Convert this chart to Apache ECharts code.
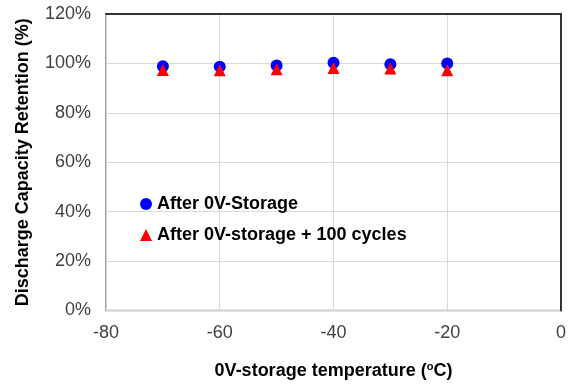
<!DOCTYPE html>
<html>
<head>
<meta charset="utf-8">
<script src="https://cdn.jsdelivr.net/npm/echarts@6/dist/echarts.min.js"></script>
<style>
  html, body { margin: 0; padding: 0; background: #fff; }
  #chart { width: 569px; height: 385px; }
</style>
</head>
<body>
<div id="chart"></div>
<script>
// Storage temperatures (°C)
const temperatures = [-70, -60, -50, -40, -30, -20];
// Discharge capacity retention (%) after 0V storage
const afterStorage = [98.9, 98.7, 99.2, 100.3, 99.7, 100.0];
// Discharge capacity retention (%) after 0V storage and 100 cycles
const afterCycles = [97.3, 97.2, 97.6, 98.1, 97.9, 97.2];

const seriesNames = ['After 0V-Storage', 'After 0V-storage + 100 cycles'];

const font = 'Arial, "Liberation Sans", sans-serif';

const chart = echarts.init(document.getElementById('chart'), null, { renderer: 'canvas' });

chart.setOption({
  backgroundColor: '#ffffff',
  animation: false,
  grid: {
    left: 106, top: 14, width: 458, height: 300,
    show: true, borderColor: '#808080', borderWidth: 1.5
  },
  legend: {
    orient: 'vertical',
    left: 135, top: 190,
    itemWidth: 12, itemHeight: 12, itemGap: 13,
    data: [
      { name: seriesNames[0], icon: 'circle' },
      { name: seriesNames[1], icon: 'triangle' }
    ],
    textStyle: { fontFamily: font, fontSize: 18, fontWeight: 'bold', color: '#000' }
  },
  xAxis: [
    {
      type: 'value', min: -80, max: 0, interval: 20,
      name: '0V-storage temperature ({sup|o}C)',
      nameLocation: 'middle', nameGap: 51,
      nameTextStyle: {
        fontFamily: font, fontSize: 18, fontWeight: 'bold', color: '#000',
        rich: { sup: { fontFamily: font, fontSize: 11, fontWeight: 'bold', color: '#000', verticalAlign: 'top', padding: [0, 0, 8, 0] } }
      },
      axisLine: { show: false },
      axisTick: { show: false },
      axisLabel: { fontFamily: font, fontSize: 18, color: '#404040', margin: 14 },
      splitLine: { show: true, lineStyle: { color: '#d9d9d9', width: 1 } }
    },
    {
      // top frame edge
      type: 'value', position: 'top', min: -80, max: 0, interval: 20,
      axisLine: { show: true, lineStyle: { color: '#333333', width: 2 } },
      axisTick: { show: false }, axisLabel: { show: false }, splitLine: { show: false }
    }
  ],
  yAxis: {
    type: 'value', min: 0, max: 120, interval: 20,
    name: 'Discharge Capacity Retention (%)',
    nameLocation: 'middle', nameGap: 74,
    nameTextStyle: { fontFamily: font, fontSize: 18, fontWeight: 'bold', color: '#000' },
    axisLine: { show: true, lineStyle: { color: '#333333', width: 2 } },
    axisTick: { show: false },
    axisLabel: { fontFamily: font, fontSize: 18, color: '#404040', margin: 15, formatter: '{value}%' },
    splitLine: { show: true, lineStyle: { color: '#d9d9d9', width: 1 } }
  },
  series: [
    {
      name: seriesNames[0], type: 'scatter', symbol: 'circle', symbolSize: 12,
      itemStyle: { color: '#0000ff', opacity: 1 },
      data: temperatures.map((t, i) => [t, afterStorage[i]])
    },
    {
      name: seriesNames[1], type: 'scatter', symbol: 'triangle', symbolSize: 12,
      itemStyle: { color: '#ff0000', opacity: 1 },
      data: temperatures.map((t, i) => [t, afterCycles[i]])
    }
  ]
});
</script>
</body>
</html>
